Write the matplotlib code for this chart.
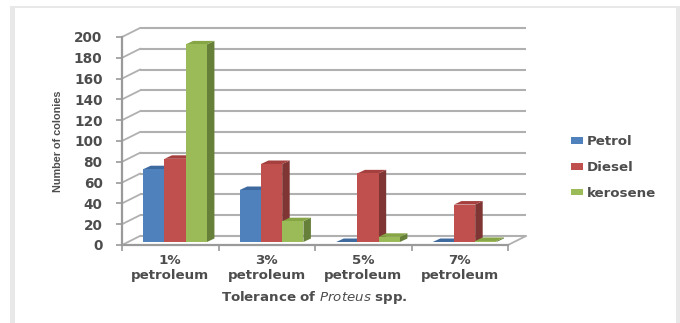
import matplotlib
matplotlib.use("Agg")
import matplotlib.pyplot as plt
from matplotlib.lines import Line2D
from matplotlib.patches import Polygon, Rectangle
from matplotlib.transforms import IdentityTransform, ScaledTranslation

categories = ["1%\npetroleum", "3%\npetroleum", "5%\npetroleum", "7%\npetroleum"]
petrol = [70, 50, 0, 0]
diesel = [80, 75, 66, 36]
kerosene = [190, 20, 5, 1]
series_names = ["Petrol", "Diesel", "kerosene"]
y_ticks = list(range(0, 201, 20))

front_colors = ["#4f81bd", "#c0504d", "#9bbb59"]
side_colors = ["#37587f", "#7f3533", "#66803a"]
top_colors = ["#3f6aa0", "#a5403e", "#86a544"]
text_color = "#4d4d4d"
grid_color = "#b0b0b0"
axis_color = "#9a9a9a"
frame_color = "#e8e8e8"

plt.rcParams["font.family"] = "DejaVu Sans"
plt.rcParams["mathtext.fontset"] = "dejavusans"

W, H = 680, 323
fig = plt.figure(figsize=(W / 100, H / 100), dpi=100)
fig.patch.set_facecolor("white")

# Panel edges: heavier on the left and right, thin along the top, open at the bottom
for x0, y0, x1, y1 in [(10, 6, 15, 323), (10, 6, 680, 8), (676, 6, 680, 323)]:
    fig.add_artist(Rectangle((x0 / W, 1 - y1 / H), (x1 - x0) / W, (y1 - y0) / H,
                             transform=fig.transFigure, facecolor=frame_color,
                             edgecolor="none", zorder=-1))

# Axes: front plane of the pseudo-3D box, x in category units, y in values
px_per_cat = 96.5
px_per_val = 1.04
left_px, base_px = 122, 245
right_px, top_px = 528, 27
ax = fig.add_axes([left_px / W, 1 - base_px / H,
                   (right_px - left_px) / W, (base_px - top_px) / H])
ax.set_xlim(0, (right_px - left_px) / px_per_cat)
ax.set_ylim(0, (base_px - top_px) / px_per_val)
ax.patch.set_alpha(0)


def shifted(dx, dy):
    """Data transform displaced by a number of pixels."""
    return ax.transData + ScaledTranslation(dx / 100, dy / 100, fig.dpi_scale_trans)


def wall_edge(x, y):
    """Receding edge from a front-plane point to the back wall."""
    x0, y0 = ax.transData.transform((x, y))
    x1, y1 = back.transform((x, y))
    ax.add_line(Line2D([x0, x1], [y0, y1], color=grid_color, lw=1.3,
                       transform=IdentityTransform(), clip_on=False, zorder=1))


# Back wall gridlines with the receding stubs on the left wall
wall_dx, wall_dy = 18, 9
back = shifted(wall_dx, wall_dy)
n_cat = len(categories)
for v in y_ticks:
    ax.plot([0, n_cat], [v, v], transform=back, color=grid_color, lw=1.5,
            clip_on=False, zorder=1, solid_capstyle="butt")
    wall_edge(0, v)
wall_edge(n_cat, 0)

# Bars with extruded top and side faces
bar_w = 0.22
depth_x = 7.5 / px_per_cat
depth_y = 3.5 / px_per_val
bar_plane = shifted(0, 3)
group_shift = 0.55
all_series = [petrol, diesel, kerosene]
for s, values in enumerate(all_series):
    xs = [i + group_shift + (s - 1) * bar_w for i in range(n_cat)]
    ax.bar(xs, values, width=bar_w, color=front_colors[s], transform=bar_plane,
           clip_on=False, zorder=3 + s * 0.1, linewidth=0)
    for x, v in zip(xs, values):
        l, r = x - bar_w / 2, x + bar_w / 2
        ax.add_patch(Polygon([(r, 0), (r + depth_x, depth_y), (r + depth_x, v + depth_y), (r, v)],
                             closed=True, facecolor=side_colors[s], edgecolor="none",
                             transform=bar_plane, clip_on=False, zorder=2.9 + s * 0.1))
        ax.add_patch(Polygon([(l, v), (l + depth_x, v + depth_y), (r + depth_x, v + depth_y), (r, v)],
                             closed=True, facecolor=top_colors[s], edgecolor="none",
                             transform=bar_plane, clip_on=False, zorder=2.9 + s * 0.1))

# Axes lines, ticks and labels
for name in ("top", "right"):
    ax.spines[name].set_visible(False)
for name in ("left", "bottom"):
    ax.spines[name].set_color(axis_color)
    ax.spines[name].set_linewidth(1.6)
ax.spines["left"].set_bounds(0, 200)
ax.spines["bottom"].set_bounds(0, n_cat)

ax.set_yticks(y_ticks)
ax.set_yticklabels([str(v) for v in y_ticks], fontsize=9.8, fontweight="bold", color=text_color)
ax.set_xticks(range(n_cat + 1))
ax.set_xticklabels([""] * (n_cat + 1))
ax.tick_params(axis="both", color=axis_color, length=4, width=1.2)
ax.tick_params(axis="y", pad=10)

for i, label in enumerate(categories):
    ax.annotate(label, xy=(i + 0.5, 0), xycoords=("data", "data"), xytext=(0, -9),
                textcoords="offset pixels", ha="center", va="top", fontsize=9.6,
                fontweight="bold", color=text_color, linespacing=1.2)

fig.text(314 / W, 1 - 297 / H, r"Tolerance of $\mathit{Proteus}$ spp.", ha="center", va="center",
         fontsize=9.6, fontweight="bold", color=text_color)
fig.text(58 / W, 1 - 141 / H, "Number of colonies", rotation=90, ha="center", va="center",
         fontsize=7.8, family="Liberation Sans", fontweight="bold", color=text_color)

# Legend
handles = [Rectangle((0, 0), 1, 1, facecolor=c, edgecolor="none") for c in front_colors]
fig.legend(handles, series_names, loc="upper left", bbox_to_anchor=(571 / W, 1 - 135 / H),
           frameon=False, ncol=1, handlelength=0.9, handleheight=0.4, handletextpad=0.3,
           labelspacing=0.97, borderpad=0, borderaxespad=0,
           prop={"size": 9.6, "weight": "bold"}, labelcolor=text_color)

fig.savefig("out.png", dpi=100, facecolor="white")
